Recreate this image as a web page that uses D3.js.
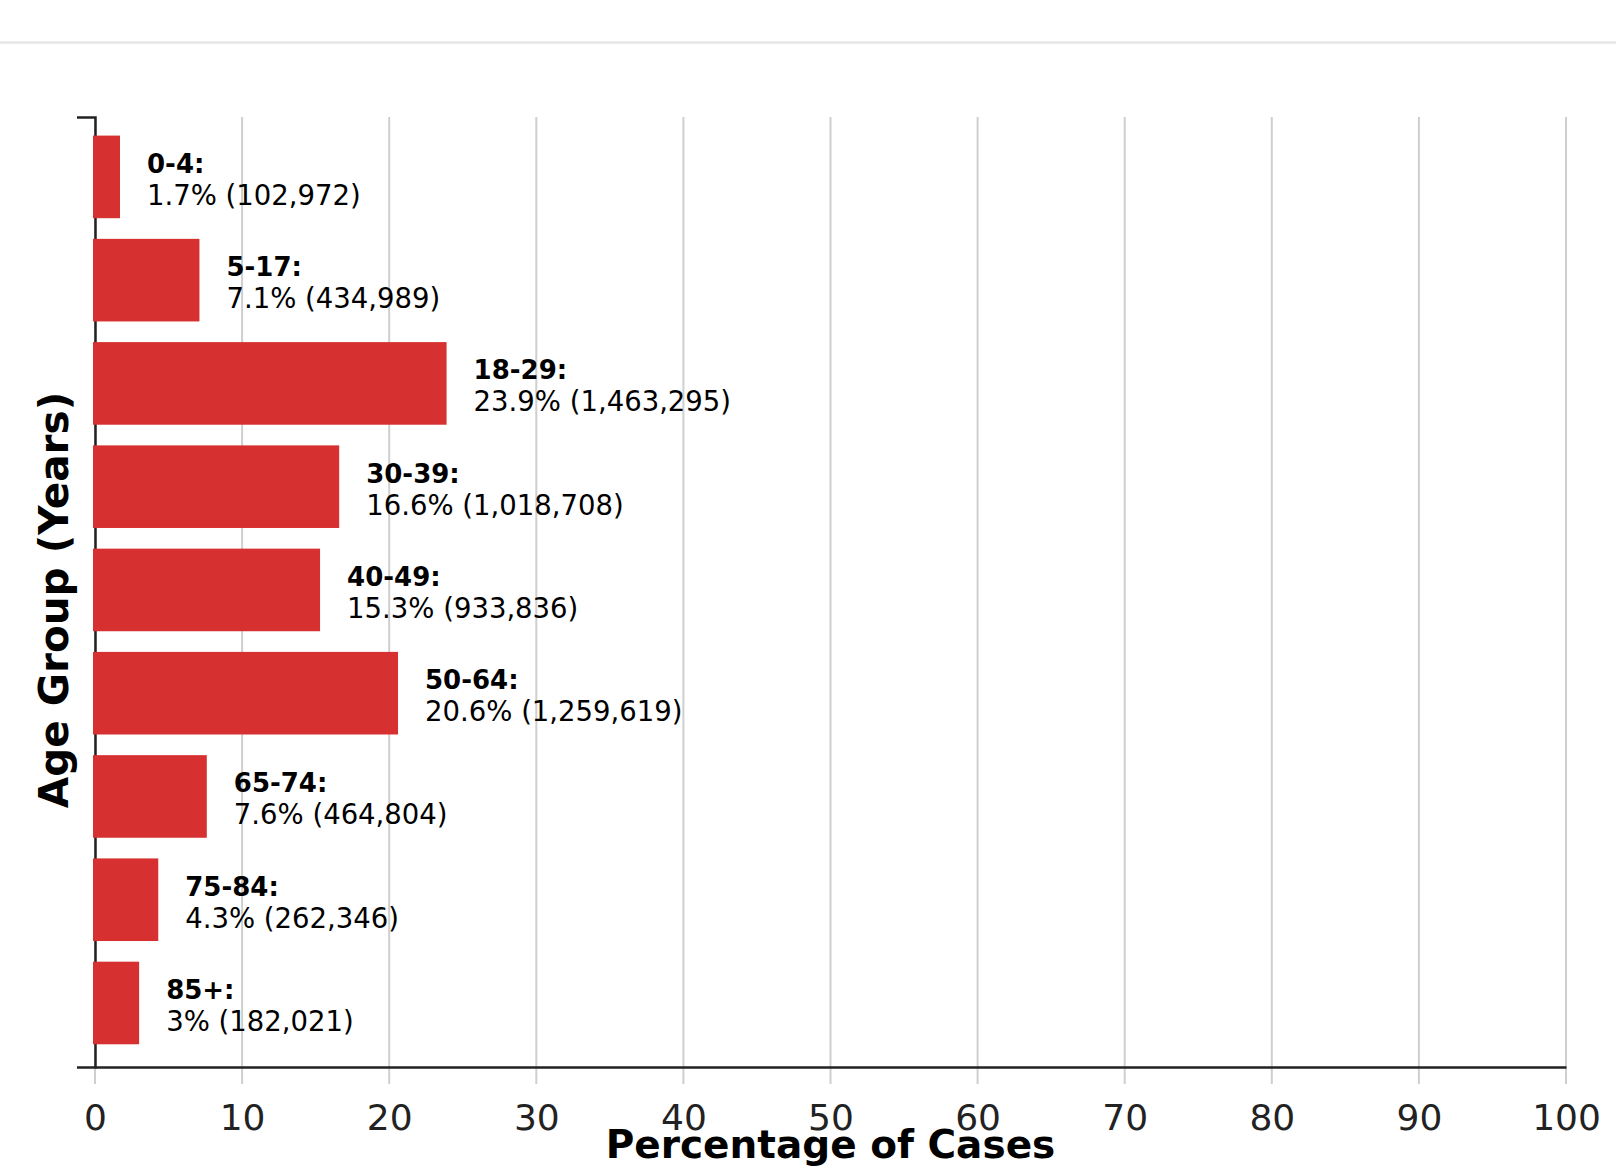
<!DOCTYPE html>
<html>
<head>
<meta charset="utf-8">
<script src="https://cdn.jsdelivr.net/npm/d3@7"></script>
<style>
  html, body { margin: 0; padding: 0; background: #fff; }
  svg { display: block; font-family: "DejaVu Sans", Verdana, sans-serif; }
</style>
</head>
<body>
<svg id="chart" width="1616" height="1171"></svg>
<script>
const categories = ["0-4", "5-17", "18-29", "30-39", "40-49", "50-64", "65-74", "75-84", "85+"];
const percents = [1.7, 7.1, 23.9, 16.6, 15.3, 20.6, 7.6, 4.3, 3];
const counts = ["102,972", "434,989", "1,463,295", "1,018,708", "933,836", "1,259,619", "464,804", "262,346", "182,021"];
const xTicks = [0, 10, 20, 30, 40, 50, 60, 70, 80, 90, 100];
const xTitle = "Percentage of Cases";
const yTitle = "Age Group (Years)";

const data = categories.map((c, i) => ({ cat: c, pct: percents[i], count: counts[i] }));

const svg = d3.select("#chart");
const W = 1616, H = 1171;
const margin = { left: 95, right: 50, top: 117, bottom: 104 };
const plotL = margin.left, plotR = W - margin.right, plotT = margin.top, plotB = H - margin.bottom;

// top separator line
svg.append("line")
  .attr("x1", 0).attr("x2", W).attr("y1", 42.5).attr("y2", 42.5)
  .attr("stroke", "#e6e6e6").attr("stroke-width", 2.5);

const x = d3.scaleLinear().domain([0, 100]).range([plotL, plotR]);
const y = d3.scaleBand().domain(categories).range([plotT, plotB])
  .paddingInner(0.2).paddingOuter(0.2).align(0.45);

// gridlines
svg.append("g").selectAll("line").data(xTicks).join("line")
  .attr("x1", d => x(d)).attr("x2", d => x(d))
  .attr("y1", plotT).attr("y2", plotB + 17)
  .attr("stroke", "#cfcfcf").attr("stroke-width", 2);

// x axis
const xAxis = d3.axisBottom(x).tickValues(xTicks).tickSize(0).tickSizeOuter(0).tickPadding(0);
const gx = svg.append("g").attr("transform", `translate(0,${plotB})`).call(xAxis);
gx.select(".domain").attr("stroke", "#222").attr("stroke-width", 2.5);
gx.selectAll(".tick text")
  .attr("font-size", 36).attr("fill", "#222")
  .attr("font-family", "DejaVu Sans, Verdana, sans-serif")
  .attr("dy", null).attr("y", 63);

// y axis
const yAxis = d3.axisLeft(y).tickValues([]).tickSizeOuter(18);
const gy = svg.append("g").attr("transform", `translate(${plotL},0)`).call(yAxis);
gy.select(".domain").attr("stroke", "#222").attr("stroke-width", 2.5);

// bars
svg.append("g").selectAll("rect").data(data).join("rect")
  .attr("x", x(0) - 2)
  .attr("y", d => y(d.cat))
  .attr("width", d => x(d.pct) - x(0) + 2)
  .attr("height", y.bandwidth())
  .attr("fill", "#d63031");

// labels
const lab = svg.append("g").selectAll("g").data(data).join("g")
  .attr("transform", d => `translate(${x(d.pct) + 27},${y(d.cat) + y.bandwidth() / 2})`);
lab.append("text")
  .attr("y", -4)
  .attr("font-size", 26).attr("font-weight", "bold").attr("fill", "#000")
  .text(d => d.cat + ":");
lab.append("text")
  .attr("y", 28)
  .attr("font-size", 27.5).attr("fill", "#000")
  .text(d => d.pct + "% (" + d.count + ")");

// axis titles
svg.append("text")
  .attr("x", (plotL + plotR) / 2).attr("y", 1158)
  .attr("text-anchor", "middle")
  .attr("font-size", 39).attr("font-weight", "bold").attr("fill", "#000")
  .text(xTitle);

svg.append("text")
  .attr("transform", `translate(68,${(plotT + plotB) / 2 + 8}) rotate(-90)`)
  .attr("text-anchor", "middle")
  .attr("font-size", 40.5).attr("font-weight", "bold").attr("fill", "#000")
  .text(yTitle);
</script>
</body>
</html>
